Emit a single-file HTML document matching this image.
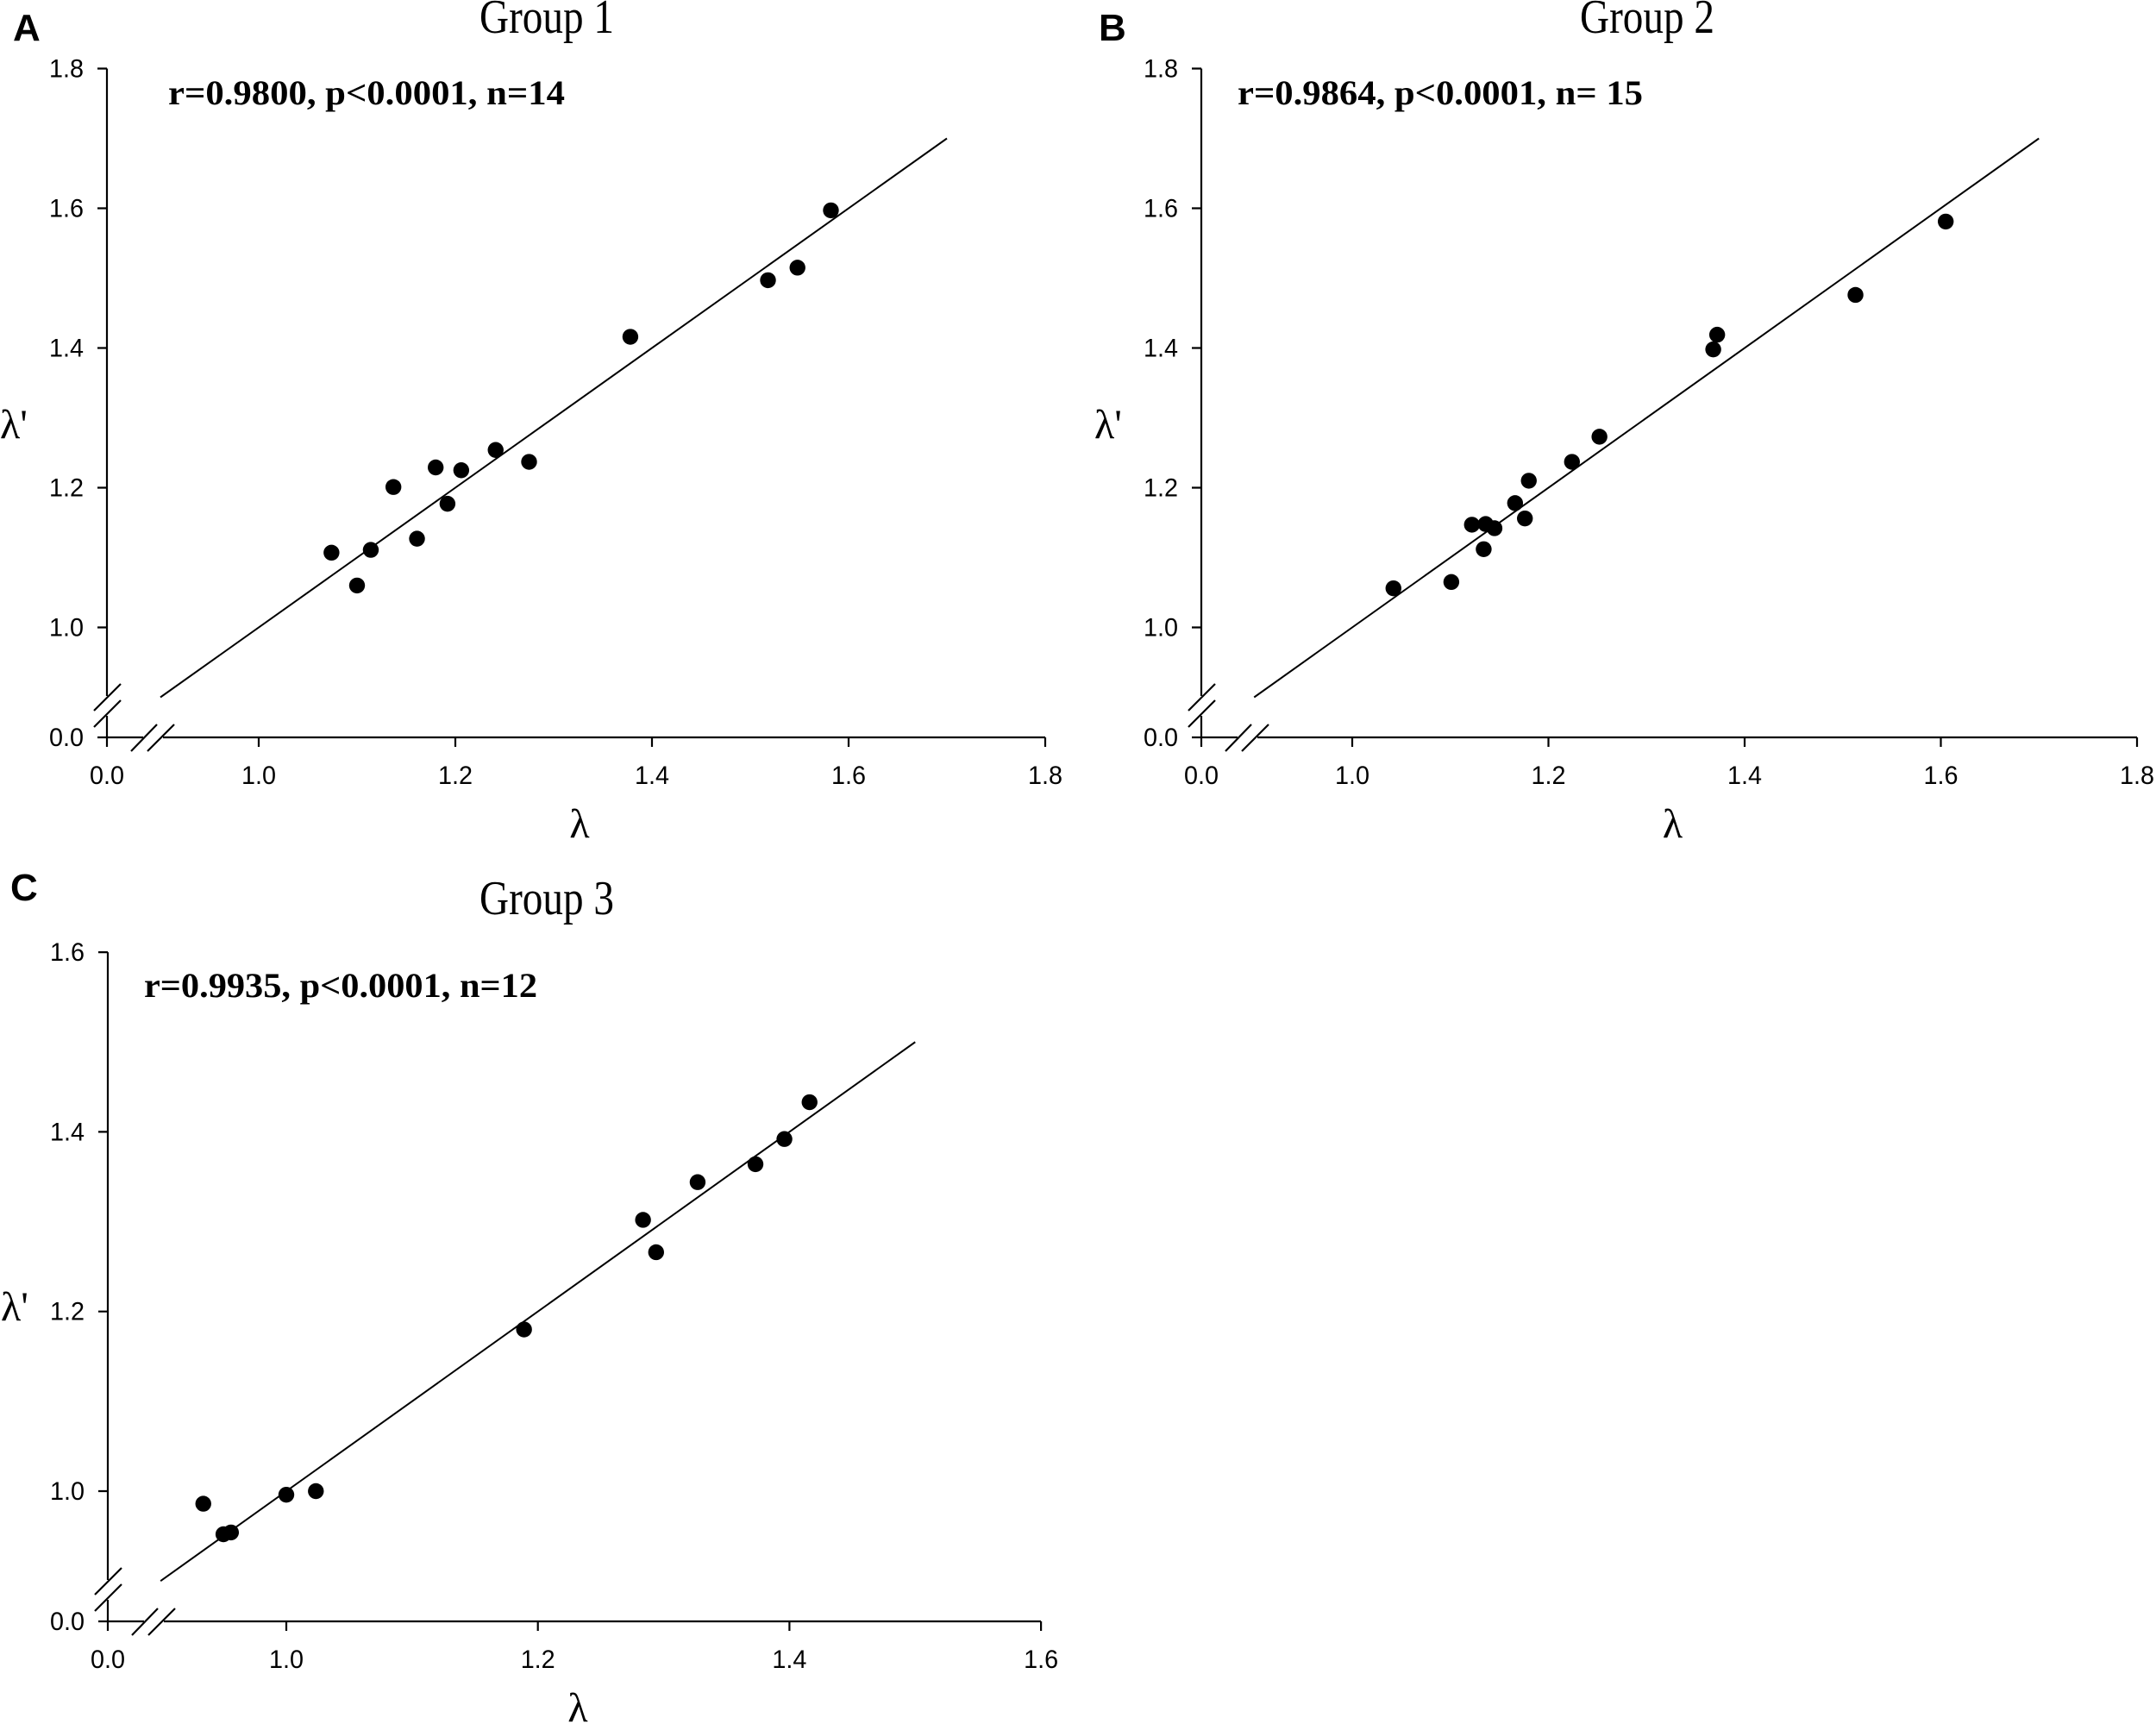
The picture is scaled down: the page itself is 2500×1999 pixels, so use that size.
<!DOCTYPE html>
<html><head><meta charset="utf-8"><style>
html,body{margin:0;padding:0;background:#fff;}
svg{display:block;}
.tick{font-family:"Liberation Sans",Arial,sans-serif;font-size:30px;fill:#000;}
.title{font-family:"Liberation Serif",serif;font-size:56px;fill:#000;}
.stat{font-family:"Liberation Serif",serif;font-size:40px;font-weight:bold;fill:#000;}
.panel{font-family:"Liberation Sans",Arial,sans-serif;font-size:44px;font-weight:bold;fill:#000;}
.axl{font-family:"Liberation Serif",serif;font-size:48px;fill:#000;}
</style></head><body>
<svg id="chart" width="2500" height="1999" viewBox="0 0 2500 1999" xmlns="http://www.w3.org/2000/svg"></svg>
<script>
// Group 1 data
const g1X = [1.074,1.100,1.114,1.137,1.161,1.180,1.192,1.206,1.241,1.275,1.378,1.518,1.548,1.582];
const g1Y = [1.107,1.060,1.111,1.201,1.127,1.229,1.177,1.225,1.254,1.237,1.416,1.497,1.515,1.597];
// Group 2 data
const g2X = [1.042,1.101,1.122,1.134,1.136,1.145,1.166,1.176,1.180,1.224,1.252,1.368,1.372,1.513,1.605];
const g2Y = [1.056,1.065,1.147,1.112,1.148,1.142,1.178,1.156,1.210,1.237,1.273,1.398,1.419,1.476,1.581];
// Group 3 data
const g3X = [0.934,0.950,0.956,1.000,1.0235,1.189,1.2836,1.294,1.327,1.373,1.396,1.416];
const g3Y = [0.986,0.952,0.954,0.996,1.000,1.180,1.302,1.266,1.344,1.364,1.392,1.433];
// fit lines [x0,x1] and [y0,y1]
const fit1X = [0.9,1.7], fit1Y = [0.9,1.7];
const fit2X = [0.9,1.7], fit2Y = [0.9,1.7];
const fit3X = [0.9,1.5], fit3Y = [0.9,1.5];
// tick labels
const ticksAB = [1.0,1.2,1.4,1.6,1.8];
const ticksC = [1.0,1.2,1.4,1.6];
const titles = ["Group 1","Group 2","Group 3"];
const stats = ["r=0.9800, p<0.0001, n=14","r=0.9864, p<0.0001, n= 15","r=0.9935, p<0.0001, n=12"];
const letters = ["A","B","C"];

const NS="http://www.w3.org/2000/svg";
const svg=document.getElementById('chart');
function mk(tag,attrs,parent){const e=document.createElementNS(NS,tag);for(const k in attrs)e.setAttribute(k,attrs[k]);(parent||svg).appendChild(e);return e;}

function panel(cfg){
  const g=mk('g',{});
  
  
  const ox=cfg.ox, oy=cfg.oy;
  const xs=v=>cfg.x1+(v-1)/0.2*cfg.sx;
  const ys=v=>cfg.y1-(v-1)/0.2*cfg.sy;
  const st={stroke:'#000','stroke-width':2.2,fill:'none'};
  const top=ys(cfg.ticks[cfg.ticks.length-1]), right=xs(cfg.ticks[cfg.ticks.length-1]);
  const ya=mk('path',Object.assign({d:`M${ox},${top} L${ox},${oy-48} M${ox},${oy-25} L${ox},${oy}`},st),g);
  
  
  const xa=mk('path',Object.assign({d:`M${ox-11},${oy} L${ox+42},${oy} M${ox+65},${oy} L${right},${oy}`},st),g);
  
  
  const br=mk('path',Object.assign({d:`M${ox-15},${oy-31} L${ox+16},${oy-62} M${ox-15},${oy-12} L${ox+16},${oy-43} M${ox+28},${oy+16} L${ox+58},${oy-15} M${ox+47},${oy+16} L${ox+78},${oy-15}`},st),g);
  
  
  mk('path',Object.assign({d:`M${ox},${oy} L${ox},${oy+11}`},st),g);
  let t=mk('text',{x:ox-27,y:oy+10,'text-anchor':'end',class:'tick',textLength:40,lengthAdjust:'spacingAndGlyphs'},g);t.textContent='0.0';
  
  
  t=mk('text',{x:ox,y:oy+54,'text-anchor':'middle',class:'tick',textLength:40,lengthAdjust:'spacingAndGlyphs'},g);t.textContent='0.0';
  
  
  cfg.ticks.forEach(v=>{
    const py=ys(v), px=xs(v);
    mk('path',Object.assign({d:`M${ox-11},${py} L${ox},${py} M${px},${oy} L${px},${oy+11}`},st),g);
    let a=mk('text',{x:ox-27,y:py+10,'text-anchor':'end',class:'tick',textLength:40,lengthAdjust:'spacingAndGlyphs'},g);a.textContent=v.toFixed(1);
    
    
    let b=mk('text',{x:px,y:oy+54,'text-anchor':'middle',class:'tick',textLength:40,lengthAdjust:'spacingAndGlyphs'},g);b.textContent=v.toFixed(1);
    
    
  });
  const ln=mk('line',{x1:xs(cfg.fx[0]),y1:ys(cfg.fy[0]),x2:xs(cfg.fx[1]),y2:ys(cfg.fy[1]),stroke:'#000','stroke-width':2},g);
  
  
  cfg.px.forEach((v,i)=>{
    const c=mk('circle',{cx:xs(v),cy:ys(cfg.py[i]),r:9.2,fill:'#000'},g);
    
    
  });
  let e=mk('text',{x:cfg.tx,y:cfg.ty,'text-anchor':'middle',class:'title',textLength:156,lengthAdjust:'spacingAndGlyphs'},g);e.textContent=cfg.title;
  
  
  e=mk('text',{x:cfg.sxp,y:cfg.syp,class:'stat',textLength:cfg.sw,lengthAdjust:'spacingAndGlyphs'},g);e.textContent=cfg.stat;
  
  
  e=mk('text',{x:cfg.lx,y:cfg.ly,class:'panel'},g);e.textContent=cfg.letter;
  
  
  e=mk('text',{x:ox+(right-ox)/2+4,y:oy+116,'text-anchor':'middle',class:'axl'},g);e.textContent='λ';
  
  
  e=mk('text',{x:ox-124,y:cfg.yl,class:'axl'},g);e.textContent="λ'";
  
  
}

panel({letter:letters[0],ox:124,oy:855,x1:300,sx:228,y1:727.5,sy:162,ticks:ticksAB,fx:fit1X,fy:fit1Y,px:g1X,py:g1Y,
  title:titles[0],tx:634,ty:38,stat:stats[0],sxp:195,syp:121,sw:460,lx:15,ly:47,yl:508});
panel({letter:letters[1],ox:1393,oy:855,x1:1568,sx:227.5,y1:727.5,sy:162,ticks:ticksAB,fx:fit2X,fy:fit2Y,px:g2X,py:g2Y,
  title:titles[1],tx:1910,ty:38,stat:stats[1],sxp:1435,syp:121,sw:470,lx:1274,ly:47,yl:508});
panel({letter:letters[2],ox:125,oy:1880,x1:332,sx:291.7,y1:1729,sy:208.3,ticks:ticksC,fx:fit3X,fy:fit3Y,px:g3X,py:g3Y,
  title:titles[2],tx:634,ty:1060,stat:stats[2],sxp:167,syp:1156,sw:456,lx:12,ly:1044,yl:1531});
</script>
</body></html>
